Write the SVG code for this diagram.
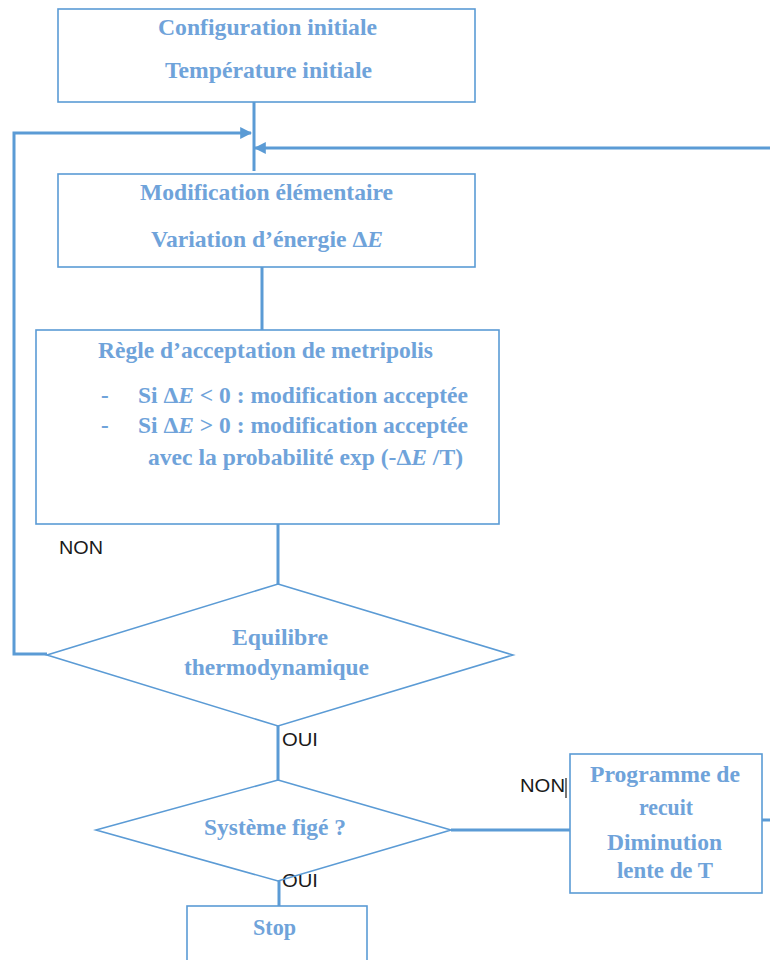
<svg xmlns="http://www.w3.org/2000/svg" width="770" height="960" viewBox="0 0 770 960">
  <style>
    .box { fill: #ffffff; stroke: #5b9bd5; stroke-width: 1.6; }
    .dia { fill: #ffffff; stroke: #5b9bd5; stroke-width: 1.6; }
    .conn { fill: none; stroke: #5b9bd5; stroke-width: 3; }
    .t { font-family: "Liberation Serif", "Times New Roman", serif; font-weight: bold; font-size: 23px; fill: #6fa3da; }
    .lbl { font-family: "Liberation Sans", Arial, sans-serif; font-size: 18px; fill: #1a1a1a; }
    .it { font-style: italic; }
  </style>
  <defs>
    <marker id="arrow" viewBox="0 0 10 10" refX="9" refY="5" markerWidth="4" markerHeight="4" orient="auto">
      <path d="M0,0 L10,5 L0,10 z" fill="#5b9bd5"/>
    </marker>
  </defs>

  <rect width="770" height="960" fill="#ffffff"/>

  <!-- connectors -->
  <g id="connectors">
    <line class="conn" x1="254" y1="102" x2="254" y2="171"/>
    <polyline class="conn" points="47,654 14,654 14,133 251,133" marker-end="url(#arrow)"/>
    <polyline class="conn" points="762,820 775,820 775,148 255,148" marker-end="url(#arrow)"/>
    <line class="conn" x1="262" y1="267" x2="262" y2="330"/>
    <line class="conn" x1="278" y1="524" x2="278" y2="584"/>
    <line class="conn" x1="278" y1="726" x2="278" y2="780"/>
    <line class="conn" x1="279" y1="881" x2="279" y2="906"/>
    <line class="conn" x1="451" y1="830" x2="570" y2="830"/>
  </g>

  <!-- start -->
  <g id="init">
    <rect class="box" x="58" y="9" width="417" height="93"/>
    <text class="t" x="158" y="35" textLength="219" lengthAdjust="spacingAndGlyphs">Configuration initiale</text>
    <text class="t" x="165" y="78" textLength="207" lengthAdjust="spacingAndGlyphs">Température initiale</text>
  </g>

  <!-- elementary move -->
  <g id="modif">
    <rect class="box" x="58" y="174" width="417" height="93"/>
    <text class="t" x="140" y="200" textLength="253" lengthAdjust="spacingAndGlyphs">Modification élémentaire</text>
    <text class="t" x="151" y="247" textLength="232" lengthAdjust="spacingAndGlyphs">Variation d’énergie Δ<tspan class="it">E</tspan></text>
  </g>

  <!-- Metropolis rule -->
  <g id="metropolis">
    <rect class="box" x="36" y="330" width="463" height="194"/>
    <text class="t" x="98" y="358" textLength="335" lengthAdjust="spacingAndGlyphs">Règle d’acceptation de metripolis</text>
    <text class="t" x="101" y="403">-</text>
    <text class="t" x="138" y="403" textLength="330" lengthAdjust="spacingAndGlyphs">Si Δ<tspan class="it">E</tspan> &lt; 0 : modification acceptée</text>
    <text class="t" x="101" y="433">-</text>
    <text class="t" x="138" y="433" textLength="330" lengthAdjust="spacingAndGlyphs">Si Δ<tspan class="it">E</tspan> &gt; 0 : modification acceptée</text>
    <text class="t" x="148" y="465" textLength="315" lengthAdjust="spacingAndGlyphs">avec la probabilité exp (-Δ<tspan class="it">E</tspan> /T)</text>
  </g>

  <text class="lbl" x="59" y="554" textLength="44" lengthAdjust="spacingAndGlyphs">NON</text>

  <!-- equilibrium test -->
  <g id="equilibre">
    <polygon class="dia" points="278,584 513,655 278,726 47,655"/>
    <text class="t" x="232" y="645" textLength="96" lengthAdjust="spacingAndGlyphs">Equilibre</text>
    <text class="t" x="184" y="675" textLength="185" lengthAdjust="spacingAndGlyphs">thermodynamique</text>
  </g>

  <text class="lbl" x="282" y="746" textLength="36" lengthAdjust="spacingAndGlyphs">OUI</text>

  <!-- frozen test -->
  <g id="fige">
    <text class="lbl" x="282" y="887" textLength="36" lengthAdjust="spacingAndGlyphs">OUI</text>
    <polygon class="dia" points="278,780 451,830 278,881 96,830" fill-opacity="0"/>
    <text class="t" x="204" y="835" textLength="142" lengthAdjust="spacingAndGlyphs">Système figé ?</text>
  </g>

  <text class="lbl" x="520" y="792" textLength="45" lengthAdjust="spacingAndGlyphs">NON</text>
  <line x1="566" y1="778" x2="566" y2="798" stroke="#1a1a1a" stroke-width="1.2"/>

  <!-- cooling schedule -->
  <g id="recuit">
    <rect class="box" x="570" y="754" width="192" height="139"/>
    <text class="t" x="590" y="782" textLength="150" lengthAdjust="spacingAndGlyphs">Programme de</text>
    <text class="t" x="639" y="815" textLength="54" lengthAdjust="spacingAndGlyphs">recuit</text>
    <text class="t" x="607" y="850" textLength="115" lengthAdjust="spacingAndGlyphs">Diminution</text>
    <text class="t" x="617" y="878" textLength="96" lengthAdjust="spacingAndGlyphs">lente de T</text>
  </g>

  <!-- end -->
  <g id="stop">
    <rect class="box" x="187" y="906" width="180" height="70"/>
    <text class="t" x="253" y="935" textLength="43" lengthAdjust="spacingAndGlyphs">Stop</text>
  </g>
</svg>
